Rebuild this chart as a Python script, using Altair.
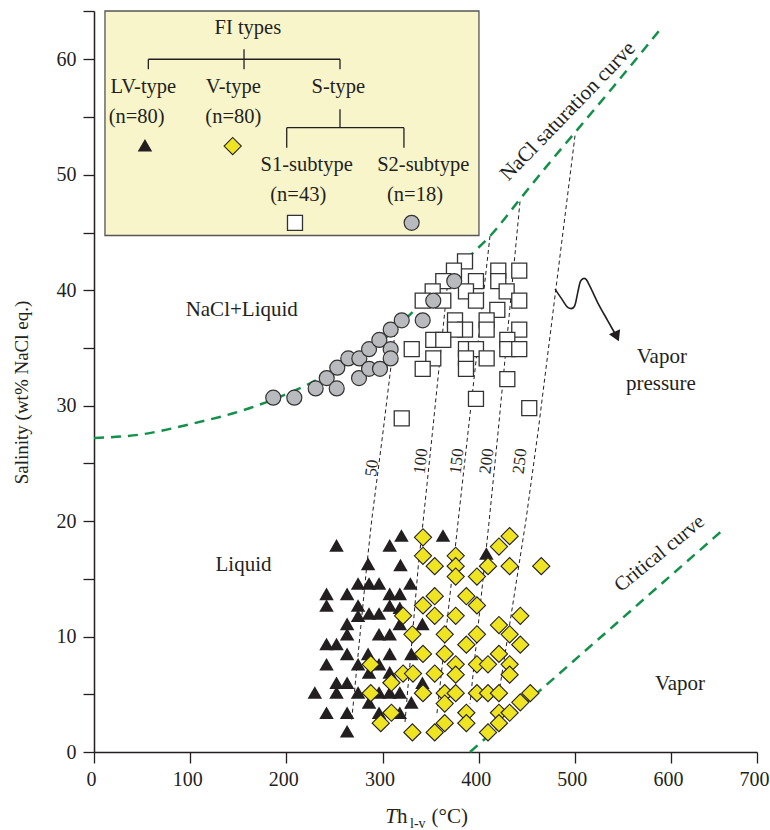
import altair as alt
import pandas as pd

SERIF = "Liberation Serif"
INK = "#231f20"
GREEN = "#13904a"

# ---------------- data ----------------
# LV-type inclusions (triangles): Th (°C), salinity (wt% NaCl eq.)
lv_x = [252.2, 319.7, 362.9, 307.5, 285.0, 318.7, 408.0, 274.6, 286.0, 296.4, 329.0,
        241.8, 241.8, 263.2, 307.5, 318.0, 274.6, 307.5, 318.0, 286.0, 296.4, 274.6,
        263.2, 263.2, 318.0, 341.5, 296.4, 307.5, 241.8, 252.2, 263.2, 285.0, 307.5,
        330.0, 241.8, 274.6, 296.4, 286.0, 307.5, 252.2, 263.2, 341.5, 229.6, 252.2,
        274.6, 296.4, 307.5, 318.0, 286.0, 330.0, 241.8, 263.2, 296.4, 318.0, 263.2]
lv_y = [17.9, 18.75, 18.75, 17.9, 16.3, 16.2, 17.2, 14.6, 14.6, 14.6, 14.6,
        13.7, 12.7, 13.7, 13.7, 13.7, 12.7, 12.7, 12.5, 12.0, 12.0, 11.8,
        11.1, 10.2, 11.1, 11.1, 10.2, 10.2, 9.35, 9.35, 8.5, 8.5, 8.5,
        8.5, 7.6, 7.6, 7.6, 6.9, 6.9, 6.0, 6.0, 6.0, 5.15, 5.15,
        5.15, 5.15, 5.15, 5.15, 4.3, 4.3, 3.4, 3.4, 3.4, 3.4, 1.8]

# V-type inclusions (diamonds)
v_x = [342.1, 342.1, 354.3, 321.4, 342.1, 354.3, 354.3, 331.1, 342.1, 287.8, 321.4,
       331.7, 309.3, 287.8, 342.1, 309.3, 298.2, 331.1, 354.3, 354.3, 376.1, 376.1,
       376.1, 398.2, 409.7, 421.1, 432.2, 432.2, 465.1, 376.1, 387.2, 398.2, 443.3,
       421.1, 432.2, 443.3, 364.7, 398.2, 387.2, 364.7, 376.1, 376.1, 398.2, 409.7,
       421.1, 432.2, 432.2, 364.7, 364.7, 376.1, 398.2, 409.7, 421.1, 387.2, 387.2,
       364.7, 409.7, 421.1, 421.1, 432.2, 443.3, 453.7]
v_y = [18.6, 17.0, 16.1, 11.8, 12.7, 13.5, 11.8, 10.2, 8.5, 7.6, 6.8,
       6.8, 6.0, 5.1, 5.1, 3.4, 2.5, 1.7, 6.8, 1.7, 17.0, 16.1,
       15.2, 15.2, 16.1, 17.8, 18.7, 16.1, 16.1, 11.8, 13.5, 12.7, 11.8,
       11.0, 10.2, 9.3, 10.2, 10.2, 9.3, 8.5, 7.6, 6.7, 7.6, 7.6,
       8.5, 7.6, 6.7, 5.1, 4.2, 5.1, 5.1, 5.1, 5.1, 3.4, 2.5,
       2.5, 1.7, 3.4, 2.5, 3.4, 4.3, 5.1]

# S1-subtype inclusions (squares)
s1_x = [385.8, 374.3, 420.4, 442.2, 363.2, 397.2, 420.4, 352.2, 386.8, 429.1, 341.8,
        363.2, 397.2, 442.2, 419.4, 375.4, 385.8, 375.4, 408.3, 408.3, 442.2, 352.8,
        363.2, 330.4, 386.8, 397.2, 429.8, 429.8, 442.2, 352.8, 386.8, 408.3, 341.8,
        386.8, 429.8, 397.2, 320.0, 452.6]
s1_y = [42.5, 41.7, 41.7, 41.7, 40.8, 40.8, 40.8, 39.9, 39.9, 39.9, 39.1,
        39.1, 39.1, 39.1, 38.3, 37.4, 36.6, 36.6, 37.4, 36.6, 36.6, 35.7,
        35.7, 34.9, 34.9, 34.9, 35.7, 34.9, 34.9, 34.1, 34.1, 34.1, 33.2,
        33.2, 32.3, 30.6, 28.9, 29.8]

# S2-subtype inclusions (circles)
s2_x = [186.4, 208.3, 230.5, 242.0, 252.4, 253.0, 264.4, 275.9, 275.6, 286.0,
        286.0, 297.4, 296.7, 308.5, 308.5, 308.5, 320.0, 341.8, 352.8, 374.6]
s2_y = [30.7, 30.7, 31.5, 32.4, 31.5, 33.3, 34.1, 34.1, 32.4, 34.9,
        33.2, 33.2, 35.7, 34.9, 34.1, 36.6, 37.4, 37.4, 39.1, 40.8]

# NaCl saturation curve
sat_x = [0.0, 47.8, 99.8, 162.2, 221.2, 255.8, 300.5, 328.6, 391.0, 411.8, 443.0,
         474.2, 508.5, 539.7, 590.6]
sat_y = [27.2, 27.5, 28.4, 29.8, 31.8, 33.3, 35.7, 37.9, 43.0, 44.7, 47.9,
         51.1, 54.5, 57.6, 62.8]

# Critical curve
crit_x = [391.0, 600.0, 662.8]
crit_y = [0.0, 15.3, 19.4]

# Isochores
iso_names = ["50", "100", "150", "200", "250"]
iso_x = [[313.0, 300.8, 288.8, 283.6, 268.0],
         [368.1, 352.2, 342.4, 337.2, 323.4],
         [411.8, 389.2, 378.8, 356.3],
         [443.0, 420.4, 411.0, 391.0],
         [500.2, 462.0, 449.2, 422.2]]
iso_y = [[36.3, 27.9, 20.1, 16.1, 2.8],
         [40.9, 27.9, 20.1, 16.1, 2.6],
         [44.7, 27.9, 20.1, 3.1],
         [47.7, 27.9, 20.1, 4.2],
         [53.4, 27.9, 20.1, 5.7]]
iso_lab_x = [289.1, 340.0, 377.5, 408.6, 443.0]
iso_lab_y = [24.6, 25.2, 25.2, 25.2, 25.2]

# Vapor-pressure squiggle arrow
arr_x = [479.4, 486.0, 493.0, 499.5, 503.0, 506.0, 511.0, 516.0, 524.0, 534.0, 543.5]
arr_y = [40.1, 39.3, 38.5, 38.6, 39.8, 40.8, 41.0, 40.3, 38.9, 37.4, 36.0]

# Field labels
field_text = ["NaCl+Liquid", "Liquid", "Vapor", "Vapor", "pressure"]
field_x = [153.6, 155.5, 610.5, 590.5, 589.5]
field_y = [38.3, 16.2, 5.9, 34.2, 31.9]

# Legend (FI types tree)
box = {"x": [11.4], "x2": [400.3], "y": [64.2], "y2": [44.75]}
leg_text = ["FI types", "LV-type", "V-type", "S-type", "(n=80)", "(n=80)",
            "S1-subtype", "S2-subtype", "(n=43)", "(n=18)"]
leg_tx = [160.0, 51.3, 144.9, 254.0, 44.4, 144.9, 221.2, 342.4, 212.4, 333.8]
leg_ty = [62.7, 57.6, 57.6, 57.6, 55.05, 55.05, 50.9, 50.9, 48.3, 48.3]
seg_x1 = [156.0, 56.5, 56.5, 255.8, 255.8, 200.4, 200.4, 322.3]
seg_y1 = [60.88, 60.02, 60.02, 60.02, 55.68, 54.09, 54.09, 54.09]
seg_x2 = [156.0, 255.8, 56.5, 255.8, 255.8, 322.3, 200.4, 322.3]
seg_y2 = [59.15, 60.02, 59.15, 59.15, 54.09, 54.09, 52.36, 52.36]
sym_x = {"tri": 53.0, "dia": 144.2, "sq": 209.0, "ci": 330.3}
sym_y = {"tri": 52.56, "dia": 52.5, "sq": 45.85, "ci": 45.85}

x_ticks = [0, 100, 200, 300, 400, 500, 600, 700]
y_ticks = [0, 5, 10, 15, 20, 25, 30, 35, 40, 45, 50, 55, 60, 64.2]

# ---------------- scales / axes ----------------
XSCALE = alt.Scale(domain=[0, 600, 700], range=[0, 577, 663], nice=False, zero=False)
YSCALE = alt.Scale(domain=[0, 64.2], nice=False, zero=False)
XAXIS = alt.Axis(values=x_ticks, title=None, grid=False, tickSize=11, labelPadding=6,
                 labelOffset=-3,
                 labelFont=SERIF, labelFontSize=20, labelColor=INK, domainColor=INK,
                 tickColor=INK, domainWidth=1.5, tickWidth=1.3, labelFlush=False,
                 labelOverlap=False)
YAXIS = alt.Axis(values=y_ticks, labelExpr="datum.value % 10 === 0 ? datum.label : ''",
                 title="Salinity (wt% NaCl eq.)", titleFont=SERIF, titleFontSize=19,
                 titleFontWeight="normal", titleColor=INK, titleX=-73, titleY=381,
                 titleAngle=270, titleAlign="center", titleBaseline="middle",
                 grid=False, tickSize=11, labelPadding=7, labelFont=SERIF,
                 labelFontSize=20, labelColor=INK, domainColor=INK, tickColor=INK,
                 domainWidth=1.5, tickWidth=1.3, labelOverlap=False, labelFlush=False)


def X(f="x"):
    return alt.X(f, type="quantitative", scale=XSCALE, axis=XAXIS)


def Y(f="y"):
    return alt.Y(f, type="quantitative", scale=YSCALE, axis=YAXIS)


def df(xs, ys, **extra):
    d = pd.DataFrame({"x": xs, "y": ys})
    for k, v in extra.items():
        d[k] = v
    return d


def txt(xs, ys, texts, size, **kw):
    return (alt.Chart(df(xs, ys, t=texts))
            .mark_text(font=SERIF, fontSize=size, color=INK, **kw)
            .encode(x=X(), y=Y(), text="t:N"))


layers = []

# isochores
iso_rows = []
for name, xs, ys in zip(iso_names, iso_x, iso_y):
    for i, (a, b) in enumerate(zip(xs, ys)):
        iso_rows.append({"x": a, "y": b, "iso": name, "o": i})
iso_df = pd.DataFrame(iso_rows)
layers.append(alt.Chart(iso_df).mark_line(color=INK, strokeWidth=1, strokeDash=[4, 3])
              .encode(x=X(), y=Y(), detail="iso:N", order="o:Q"))
layers.append(txt(iso_lab_x, iso_lab_y, iso_names, 17, angle=277,
                  align="center", baseline="middle"))

# saturation & critical curves
sat_df = df(sat_x, sat_y, o=list(range(len(sat_x))))
layers.append(alt.Chart(sat_df).mark_line(color=GREEN, strokeWidth=2.5, strokeDash=[10, 7],
                                          interpolate="monotone")
              .encode(x=X(), y=Y(), order="o:Q"))
crit_df = df(crit_x, crit_y, o=list(range(len(crit_x))))
layers.append(alt.Chart(crit_df).mark_line(color=GREEN, strokeWidth=2.5, strokeDash=[10, 7])
              .encode(x=X(), y=Y(), order="o:Q"))

# data points
TRI = dict(shape="triangle-up", filled=True, color=INK, size=210, opacity=1)
DIA = dict(shape="diamond", filled=True, fill="#eee421", stroke=INK, strokeWidth=1.1,
           size=295, opacity=1)
SQ = dict(shape="square", filled=True, fill="white", stroke="#333333", strokeWidth=1.3,
          size=225, opacity=1)
CI = dict(shape="circle", filled=True, fill="#b9babd", stroke="#333333", strokeWidth=1.2,
          size=225, opacity=1)
layers.append(alt.Chart(df(lv_x, lv_y)).mark_point(**TRI).encode(x=X(), y=Y()))
layers.append(alt.Chart(df(v_x, v_y)).mark_point(**DIA).encode(x=X(), y=Y()))
layers.append(alt.Chart(df(s1_x, s1_y)).mark_point(**SQ).encode(x=X(), y=Y()))
layers.append(alt.Chart(df(s2_x, s2_y)).mark_point(**CI).encode(x=X(), y=Y()))

# field labels and curve labels
layers.append(txt(field_x, field_y, field_text, 21, align="center", baseline="middle"))
layers.append(txt([492.9], [55.5], ["NaCl saturation curve"], 21, angle=314,
                  align="center", baseline="middle"))
layers.append(txt([588.0], [17.2], ["Critical curve"], 20, angle=321,
                  align="center", baseline="middle"))

# vapor pressure arrow
arr_df = df(arr_x, arr_y, o=list(range(len(arr_x))))
layers.append(alt.Chart(arr_df).mark_line(color=INK, strokeWidth=1.6, interpolate="cardinal")
              .encode(x=X(), y=Y(), order="o:Q"))
layers.append(alt.Chart(df([arr_x[-1]], [arr_y[-1]]))
              .mark_point(shape="triangle-down", filled=True, color=INK, size=150,
                          angle=336, opacity=1)
              .encode(x=X(), y=Y()))

# legend box
layers.append(alt.Chart(pd.DataFrame(box)).mark_rect(fill="#f8f5cb", stroke="#555555",
                                                     strokeWidth=1.3)
              .encode(x=X("x"), x2="x2:Q", y=Y("y"), y2="y2:Q"))
seg_df = pd.DataFrame({"x": seg_x1, "y": seg_y1, "x2": seg_x2, "y2": seg_y2})
layers.append(alt.Chart(seg_df).mark_rule(color=INK, strokeWidth=1.3)
              .encode(x=X("x"), y=Y("y"), x2="x2:Q", y2="y2:Q"))
layers.append(txt(leg_tx, leg_ty, leg_text, 20.5, align="center", baseline="middle"))
layers.append(alt.Chart(df([sym_x["tri"]], [sym_y["tri"]])).mark_point(**TRI)
              .encode(x=X(), y=Y()))
layers.append(alt.Chart(df([sym_x["dia"]], [sym_y["dia"]])).mark_point(**DIA)
              .encode(x=X(), y=Y()))
layers.append(alt.Chart(df([sym_x["sq"]], [sym_y["sq"]])).mark_point(**SQ)
              .encode(x=X(), y=Y()))
layers.append(alt.Chart(df([sym_x["ci"]], [sym_y["ci"]])).mark_point(**CI)
              .encode(x=X(), y=Y()))

# x-axis title built from pieces: italic T, upright h, subscript l-v, (°C)
layers.append(txt([315.1], [-5.64], ["T"], 21, fontStyle="italic",
                  align="right", baseline="middle"))
layers.append(txt([315.1], [-5.64], ["h"], 21, align="left", baseline="middle"))
layers.append(txt([328.6], [-6.24], ["l-v"], 14, align="left", baseline="middle"))
layers.append(txt([351.0], [-5.64], ["(°C)"], 21, align="left", baseline="middle"))

chart = (alt.layer(*layers)
         .properties(width=663, height=741,
                     autosize=alt.AutoSizeParams(type="none"),
                     padding={"left": 94, "top": 11, "right": 13, "bottom": 78},
                     background="white")
         .configure_view(stroke=None))

chart.save("out.html", embed_options={"renderer": "svg", "actions": False})
